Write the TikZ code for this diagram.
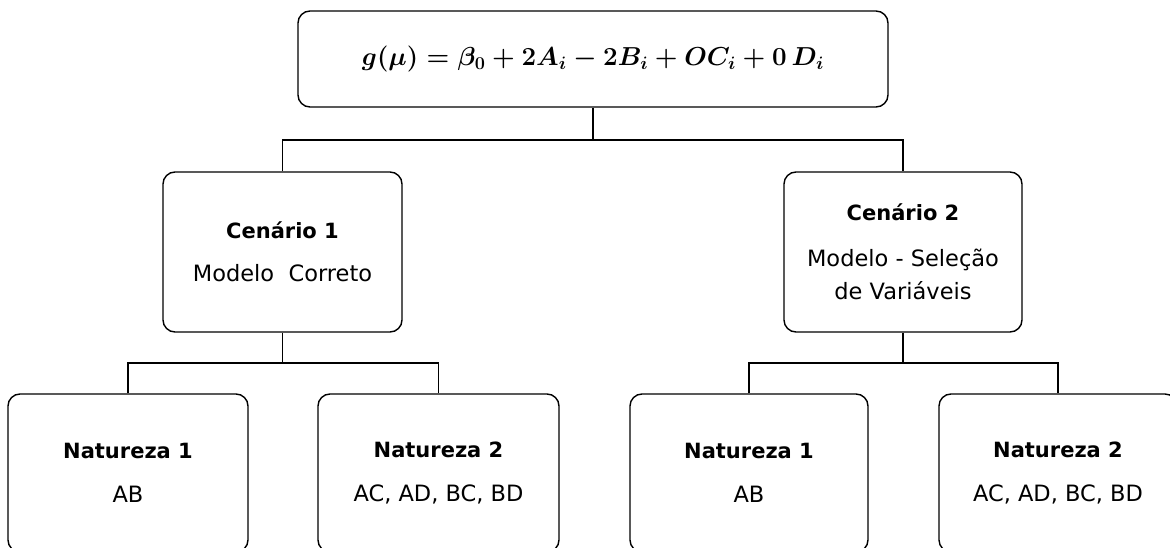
\documentclass[tikz,border=0pt]{standalone}
\usepackage{fontspec}
\setmainfont{DejaVu Sans}
\usepackage{amsmath}
\usepackage{graphicx}
\begin{document}
\begin{tikzpicture}[x=1pt,y=-1pt,
  box/.style={draw=black, line width=1.4pt, rounded corners=12pt, inner sep=0pt,
    align=center, font=\fontsize{22.5}{33}\selectfont},
  ttl/.style={},
  conn/.style={draw=black, line width=1.4pt}]
\useasboundingbox (0,0) rectangle (1170,548);
\clip (0,0) rectangle (1170,548);
% top
\node[box, minimum width=590pt, minimum height=96pt] (top) at (593,59)
  {\raisebox{4pt}{\resizebox{462pt}{!}{$\boldsymbol{g(\mu) = \beta_0 + 2A_i - 2B_i + OC_i + 0\,D_i}$}}};
% scenarios
\node[box, minimum width=239pt, minimum height=160pt] (c1) at (282.5,252)
  {{\fontsize{21}{33}\selectfont\bfseries Cenário 1}\\[10pt]Modelo\ \ Correto};
\node[box, minimum width=238pt, minimum height=160pt] (c2) at (903,252)
  {{\fontsize{21}{33}\selectfont\bfseries Cenário 2}\\[13pt]Modelo - Seleção\\de Variáveis};
% natures
\node[box, minimum width=240pt, minimum height=158pt] (n11) at (128,473)
  {{\fontsize{21}{33}\selectfont\bfseries Natureza 1}\\[11pt]AB};
\node[box, minimum width=241pt, minimum height=158pt] (n12) at (438.5,473)
  {{\fontsize{21}{33}\selectfont\bfseries Natureza 2}\\[11pt]AC, AD, BC, BD};
\node[box, minimum width=238pt, minimum height=158pt] (n21) at (749,473)
  {{\fontsize{21}{33}\selectfont\bfseries Natureza 1}\\[11pt]AB};
\node[box, minimum width=238pt, minimum height=158pt] (n22) at (1058,473)
  {{\fontsize{21}{33}\selectfont\bfseries Natureza 2}\\[11pt]AC, AD, BC, BD};
% junctions
\coordinate (j0) at (593,140);
\coordinate (j1) at (282.5,363);
\coordinate (j2) at (903,363);
% connectors
\draw[conn] (top.south) -- (j0);
\draw[conn] (c1.north) |- (j0) -| (c2.north);
\draw[conn] (c1.south) -- (j1);
\draw[conn] (n11.north) |- (j1) -| (n12.north);
\draw[conn] (c2.south) -- (j2);
\draw[conn] (n21.north) |- (j2) -| (n22.north);
\end{tikzpicture}
\end{document}
